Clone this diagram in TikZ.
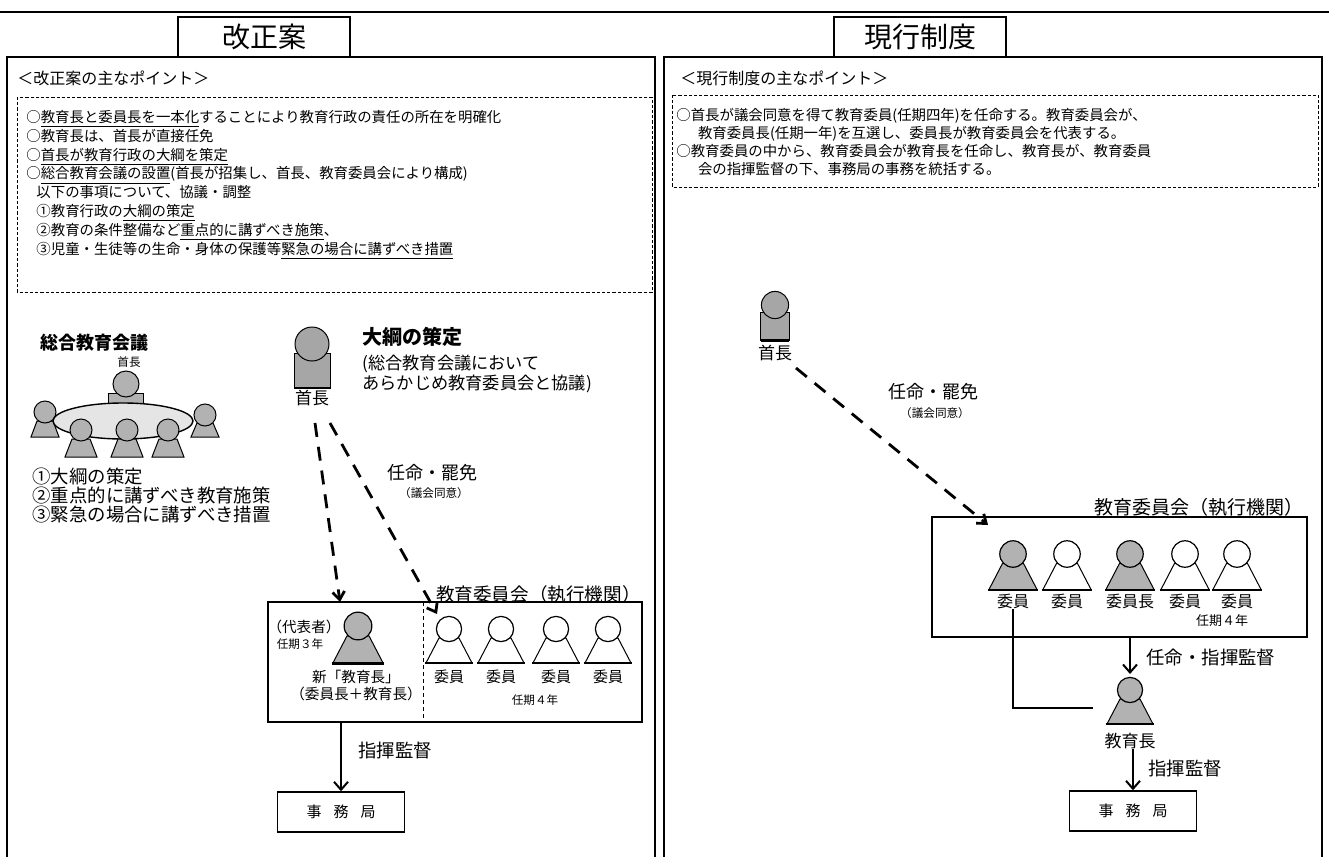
\documentclass[tikz,border=0pt]{standalone}
\usepackage{fontspec}
\setmainfont{Noto Sans CJK JP}
\usetikzlibrary{arrows.meta}
\usetikzlibrary{positioning}
\setlength{\lineskiplimit}{-5pt}

% figures used in both charts
\tikzset{
  pics/member/.style={code={
    \filldraw[fill=#1, line width=0.5pt] (-10,9) -- (10,9) -- (23,34) -- (-23,34) -- cycle;
    \draw[line width=1.1pt] (-24,34) -- (24,34);
    \filldraw[fill=#1, line width=0.6pt] (0,0) circle [radius=6.3pt];
  }},
  pics/portrait/.style={code={
    \filldraw[fill=black!35, line width=0.5pt] (-18,9) rectangle (18,44);
    \filldraw[fill=black!35, line width=0.5pt] (0,0) circle [radius=8.5pt];
    \draw[line width=1.4pt] (-18,44) -- (18,44);
  }},
  pics/meeting/.style={code={
    % chair behind the table
    \filldraw[fill=black!30, line width=0.5pt] (-15,-28) rectangle (20,-13);
    \filldraw[fill=black!30, line width=0.5pt] (3,-37) circle [radius=6.5pt];
    % side seats
    \filldraw[fill=black!30, line width=0.5pt] (-86,0) -- (-70,0) -- (-64,16) -- (-92,16) -- cycle;
    \filldraw[fill=black!30, line width=0.5pt] (-78,-9) circle [radius=5.5pt];
    \filldraw[fill=black!30, line width=0.5pt] (74,2) -- (90,2) -- (96,16) -- (68,16) -- cycle;
    \filldraw[fill=black!30, line width=0.5pt] (82,-6) circle [radius=5.5pt];
    % table
    \filldraw[fill=black!10, line width=0.7pt] (0,0) ellipse [x radius=35pt, y radius=9pt];
    % front seats
    \foreach \u in {-42, 4, 45} {
      \filldraw[fill=black!30, line width=0.5pt] (\u-9,18) -- (\u+9,18) -- (\u+16,36) -- (\u-16,36) -- cycle;
      \filldraw[fill=black!30, line width=0.5pt] (\u,9) circle [radius=5.5pt];
    }
  }},
}

\begin{document}
\begin{tikzpicture}[x=0.5pt,y=-0.5pt,
  panel/.style={line width=0.9pt},
  tabbox/.style={draw, line width=0.9pt, fill=white, minimum width=86pt, minimum height=20pt, inner sep=0pt, font=\fontsize{14}{16}\selectfont},
  pointbox/.style={draw, dash pattern=on 1.6pt off 1pt, line width=0.45pt},
  body/.style={align=left, inner sep=0pt, font=\fontsize{7.2}{9.4}\selectfont},
  heading/.style={inner sep=0pt, font=\fontsize{8}{9}\selectfont},
  boldtxt/.style={inner sep=0pt, font=\fontsize{9.5}{11}\selectfont\bfseries},
  txt/.style={inner sep=0pt, font=\fontsize{7.3}{8.5}\selectfont},
  bigtxt/.style={inner sep=0pt, font=\fontsize{9}{10}\selectfont},
  smalltxt/.style={inner sep=0pt, font=\fontsize{5.8}{6.5}\selectfont},
  board/.style={draw, line width=0.7pt, inner sep=0pt},
  officebox/.style={draw, line width=0.7pt, minimum width=63.5pt, minimum height=20pt, inner sep=0pt, font=\fontsize{7.5}{8}\selectfont},
  dasharrow/.style={line width=1.4pt, dash pattern=on 7pt off 5pt, -{Straight Barb[length=4pt,width=6pt]}},
  arr/.style={line width=1pt, -{Straight Barb[length=4pt,width=7pt]}},
]
\useasboundingbox (0,0) rectangle (1329,857);
\fill[white] (0,0) rectangle (1329,857);

% rule over the page
\draw[line width=1.2pt] (0,12) -- (1329,12);

% ---------- left: the reform ----------
\draw[panel] (7,857) -- (7,57) -- (655,57) -- (655,857);
\node[tabbox] (tabL) at (264,37) {改正案};
\node[heading, anchor=west] (headL) at (17,78) {＜改正案の主なポイント＞};
\draw[pointbox] (17,97) rectangle (652,292);
\node[body, anchor=north west] (pointsL) at (26,110) {%
○\underline{教育長と委員長を一本化}することにより教育行政の責任の所在を明確化\\
○教育長は、首長が直接任免\\
○\underline{首長が教育行政の大綱を策定}\\
○\underline{総合教育会議の設置}(首長が招集し、首長、教育委員会により構成)\\
\hspace*{0.7em}以下の事項について、協議・調整\\
\hspace*{0.7em}①教育行政の\underline{大綱の策定}\\
\hspace*{0.7em}②教育の条件整備など\underline{重点的に講ずべき施策}、\\
\hspace*{0.7em}③児童・生徒等の生命・身体の保護等\underline{緊急の場合に講ずべき措置}};

% general education conference
\node[boldtxt, anchor=west, font=\fontsize{9}{10}\selectfont\bfseries] (meetTitle) at (40,343) {総合教育会議};
\node[smalltxt] (meetChief) at (129,362) {首長};
\pic at (123,421) {meeting};
\node[body, anchor=north west, font=\fontsize{9.2}{9.3}\selectfont] (meetList) at (32,468) {①大綱の策定\\②重点的に講ずべき教育施策\\③緊急の場合に講ずべき措置};

% head of the municipality
\pic at (312,344) {portrait};
\node[bigtxt, font=\fontsize{8.5}{9}\selectfont] (chiefL) at (312,398) {首長};
\node[boldtxt, anchor=west, font=\fontsize{10}{11}\selectfont\bfseries] (outlineT) at (362,337) {大綱の策定};
\node[body, anchor=north west, font=\fontsize{8.6}{9.6}\selectfont] (outlineNote) at (362,355) {(総合教育会議において\\あらかじめ教育委員会と協議)};

\coordinate (chiefLa) at (315,423);
\coordinate (chiefLb) at (330,423);
\coordinate (tipA) at (340,602);
\coordinate (tipB) at (437,614);
\draw[dasharrow] (chiefLa) -- (tipA);
\draw[dasharrow] (chiefLb) -- (tipB);
\node[bigtxt] (appointL) at (432,473) {任命・罷免};
\node[smalltxt] (consentL) at (434,493) {（議会同意）};

% board of education
\node[bigtxt, anchor=east, font=\fontsize{9.3}{10}\selectfont] (boardLT) at (641,594) {教育委員会（執行機関）};
\node[board, minimum width=187pt, minimum height=60pt] (boardL) at (455,662) {};
\coordinate (divTop) at (423,602);
\coordinate (divBot) at (423,722);
\draw[dash pattern=on 2pt off 1.5pt, line width=0.5pt] (divTop) -- (divBot);

\pic[scale=1.1] at (358,626) {member=black!30};
\node[txt] (repL) at (304,627) {（代表者）};
\node[smalltxt] (termL3) at (300,644) {任期３年};
\node[txt] (newChief) at (356,677) {新「教育長」};
\node[txt] (newChiefNote) at (356,694) {（委員長＋教育長）};

\foreach \x/\n in {449/1,501/2,556/3,608/4} {
  \pic at (\x,629) {member=white};
  \node[txt, font=\fontsize{7.5}{8}\selectfont] (memL\n) at (\x,677) {委員};
}
\node[smalltxt] (termL4) at (535,700) {任期４年};

% secretariat
\node[officebox] (officeL) at (341,812) {事\hspace{0.8em}務\hspace{0.8em}局};
\draw[arr] (boardL.south -| officeL.north) -- (officeL.north);
\node[bigtxt, anchor=west, font=\fontsize{9.2}{10}\selectfont] (superviseL) at (358,750) {指揮監督};

% ---------- right: the present system ----------
\draw[panel] (664,857) -- (664,57) -- (1322,57) -- (1322,857);
\node[tabbox] (tabR) at (920,37) {現行制度};
\node[heading, anchor=west] (headR) at (680,78) {＜現行制度の主なポイント＞};
\draw[pointbox] (672,95) rectangle (1318,187);
\node[body, anchor=north west, font=\fontsize{7.2}{9}\selectfont] (pointsR) at (676,108) {%
○首長が議会同意を得て教育委員(任期四年)を任命する。教育委員会が、\\
\hspace*{1.5em}教育委員長(任期一年)を互選し、委員長が教育委員会を代表する。\\
○教育委員の中から、教育委員会が教育長を任命し、教育長が、教育委員\\
\hspace*{1.5em}会の指揮監督の下、事務局の事務を統括する。};

\pic[scale=0.8] at (775,305) {portrait};
\node[bigtxt, font=\fontsize{8.5}{9}\selectfont] (chiefR) at (775,353) {首長};
\coordinate (chiefRa) at (796,368);
\coordinate (tipC) at (988,525);
\draw[dasharrow] (chiefRa) -- (tipC);
\node[bigtxt] (appointR) at (933,392) {任命・罷免};
\node[smalltxt] (consentR) at (935,413) {（議会同意）};

\node[bigtxt, anchor=east, font=\fontsize{9.5}{10}\selectfont] (boardRT) at (1304,507) {教育委員会（執行機関）};
\node[board, minimum width=187.5pt, minimum height=60pt] (boardR) at (1119.5,577) {};

\foreach \x/\n/\t/\c in {1013/1/委員/black!30, 1067/2/委員/white, 1130/3/委員長/black!30, 1185/4/委員/white, 1237/5/委員/white} {
  \pic[scale=1.05] at (\x,554) {member=\c};
  \node[txt, font=\fontsize{8}{9}\selectfont] (memR\n) at (\x,601) {\t};
}
\node[smalltxt, font=\fontsize{6.5}{7}\selectfont] (termR4) at (1222,621) {任期４年};

% superintendent
\coordinate (chiefTop) at (1130,674);
\draw[arr] (boardR.south -| chiefTop) -- (chiefTop);
\node[bigtxt, anchor=west, font=\fontsize{9.2}{10}\selectfont] (appointR2) at (1146,658) {任命・指揮監督};
\pic at (1130,690) {member=black!30};
\node[txt, font=\fontsize{8.5}{9}\selectfont] (chief2) at (1130,741) {教育長};
\coordinate (lineEnd) at (1093,708);
\draw[line width=1pt] (memR1.south) |- (lineEnd);

\node[officebox] (officeR) at (1133,811) {事\hspace{0.8em}務\hspace{0.8em}局};
\draw[arr] (chief2.south -| officeR.north) -- (officeR.north);
\node[bigtxt, anchor=west, font=\fontsize{9.2}{10}\selectfont] (superviseR) at (1148,768) {指揮監督};
\end{tikzpicture}
\end{document}
